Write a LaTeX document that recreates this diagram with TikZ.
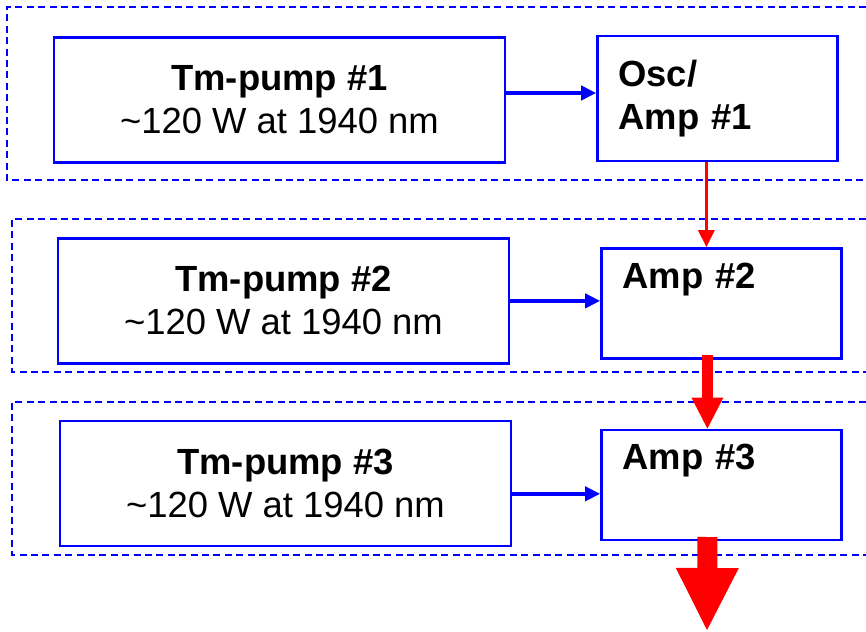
\documentclass[tikz,border=0pt]{standalone}
\usepackage{fontspec}
\setmainfont{Liberation Sans}
\usetikzlibrary{arrows.meta,positioning}
\definecolor{PumpBlue}{HTML}{0000FF}
\definecolor{BeamRed}{HTML}{FF0000}

\begin{document}
\begin{tikzpicture}[
    x=0.5pt,y=-0.5pt,
    node distance=45pt and 45pt,
    group/.style={draw=PumpBlue,line width=1pt,dash pattern=on 3.5pt off 2.2pt},
    pumpbox/.style={draw=PumpBlue,line width=1.2pt,minimum width=225.5pt,minimum height=62.5pt,
      align=center,font=\fontsize{18.2}{21.5}\selectfont},
    ampbox/.style={draw=PumpBlue,line width=1.2pt,text width=99pt,inner xsep=10.5pt,
      minimum height=55pt,align=left,font=\fontsize{18.2}{21.5}\selectfont\bfseries},
    pumparr/.style={-{Triangle[length=7.5pt,width=7pt]},line width=2pt,draw=PumpBlue},
    beam/.style={-{Triangle[length=8.5pt,width=8pt]},line width=1.6pt,draw=BeamRed}
  ]
    \useasboundingbox (0,0) rectangle (866,631);
    \draw[group] (866,7) -- (7,7) -- (7,180) -- (866,180);
    \draw[group] (866,219) -- (12,219) -- (12,372) -- (866,372);
    \draw[group] (866,402) -- (12,402) -- (12,555) -- (866,555);
    \node[pumpbox] (pump1) at (279.5,100) {\textbf{Tm-pump \#1}\\\textasciitilde120 W at 1940 nm};
    \node[ampbox,minimum height=62.5pt,right=of pump1,yshift=0.75pt] (osc1) {Osc/\\Amp \#1};
    \node[ampbox,below=42.5pt of osc1,xshift=2pt] (amp2) {Amp \#2\\\strut};
    \node[pumpbox,left=of amp2,yshift=1.25pt] (pump2) {\textbf{Tm-pump \#2}\\\textasciitilde120 W at 1940 nm};
    \node[ampbox,below=34.5pt of amp2] (amp3) {Amp \#3\\\strut};
    \node[pumpbox,left=44pt of amp3,yshift=0.75pt] (pump3) {\textbf{Tm-pump \#3}\\\textasciitilde120 W at 1940 nm};
    \coordinate (out) at (707,630);
    \draw[pumparr] ([yshift=3.5pt]pump1.east) -- ([yshift=2.75pt]osc1.west);
    \draw[pumparr] (pump2.east) -- (pump2.east -| amp2.west);
    \draw[pumparr] ([yshift=-5.25pt]pump3.east) -- ([yshift=-4.5pt]amp3.west);
    \draw[beam] ([xshift=-5.5pt]osc1.south) -- ([xshift=-7.5pt]amp2.north);
    \draw[beam,line width=5.5pt,-{Triangle[length=15.5pt,width=16pt,line width=0pt]}]
      ([shift={(-7pt,2.5pt)}]amp2.south) -- ([xshift=-7pt]amp3.north);
    \draw[beam,line width=10pt,-{Triangle[length=31pt,width=31.5pt,line width=0pt]}]
      ([shift={(-7pt,2pt)}]amp3.south) -- (out);
  \end{tikzpicture}
\end{document}
